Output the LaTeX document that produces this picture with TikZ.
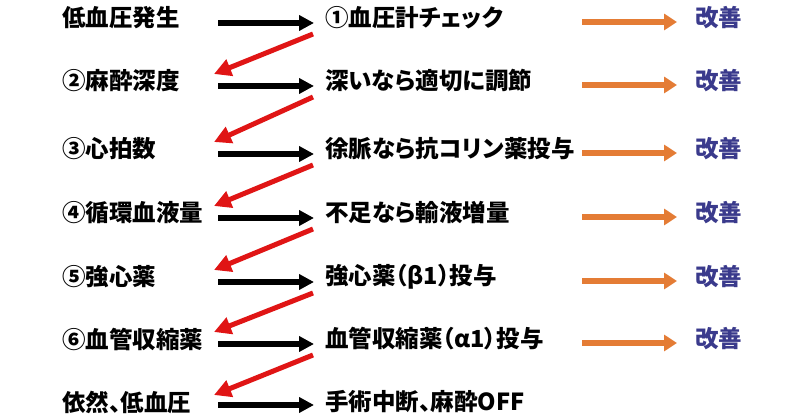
\documentclass[tikz,border=0pt]{standalone}
\usepackage{fontspec}
\setmainfont{Noto Sans CJK JP}[RawFeature=+palt]
\usetikzlibrary{arrows.meta}
\definecolor{myorange}{HTML}{E47C35}
\definecolor{myblue}{HTML}{3A3A8C}
\definecolor{myred}{HTML}{E01515}
\tikzset{
  lbl/.style={anchor=west, inner sep=0pt, font=\fontsize{23.5}{26}\selectfont\bfseries, text=black},
  good/.style={lbl, text=myblue},
  blk/.style={line width=5.2pt, -{Triangle[length=15pt,width=15pt]}},
  redarr/.style={line width=5pt, draw=myred, -{Triangle[length=17pt,width=17pt]}},
  orarr/.style={line width=5.2pt, draw=myorange, -{Triangle[length=13pt,width=16pt]}}
}
\begin{document}
\begin{tikzpicture}[x=1pt,y=-1pt]
\useasboundingbox[fill=white] (0,0) rectangle (800,419);
% left column
\node[lbl] (l1) at (62,18) {低血圧発生};
\node[lbl] (l2) at (62,81) {②麻酔深度};
\node[lbl] (l3) at (62,149) {③心拍数};
\node[lbl] (l4) at (62,213) {④循環血液量};
\node[lbl] (l5) at (62,277) {⑤強心薬};
\node[lbl] (l6) at (62,339) {⑥血管収縮薬};
\node[lbl] (l7) at (62,402) {依然、低血圧};
% middle column
\node[lbl] (m1) at (325,18) {①血圧計チェック};
\node[lbl] (m2) at (325,81) {深いなら適切に調節};
\node[lbl] (m3) at (325,149) {徐脈なら抗コリン薬投与};
\node[lbl] (m4) at (325,213) {不足なら輸液増量};
\node[lbl] (m5) at (325,277) {強心薬（β1）投与};
\node[lbl] (m6) at (325,339) {血管収縮薬（α1）投与};
\node[lbl] (m7) at (325,402) {手術中断、麻酔OFF};
% right column
\foreach \i/\y in {1/18,2/81,3/149,4/213,5/277,6/339}{
  \node[good] (r\i) at (695,\y) {改善};
  \coordinate (bs\i) at (218,\y+5);
  \coordinate (be\i) at (314,\y+5);
  \coordinate (os\i) at (582,\y+4);
  \coordinate (oe\i) at (677,\y+4);
  \draw[blk] (bs\i) -- (be\i);
  \draw[orarr] (os\i) -- (oe\i);
}
\coordinate (bs7) at (218,405);
\coordinate (be7) at (314,405);
\draw[blk] (bs7) -- (be7);
% red arrows
\foreach \i/\y/\n in {1/18/81,2/81/149,3/149/213,4/213/277,5/277/339,6/339/402}{
  \coordinate (rs\i) at (313,\y+16);
  \coordinate (re\i) at (214,\n-7);
  \draw[redarr] (rs\i) -- (re\i);
}
\end{tikzpicture}
\end{document}
